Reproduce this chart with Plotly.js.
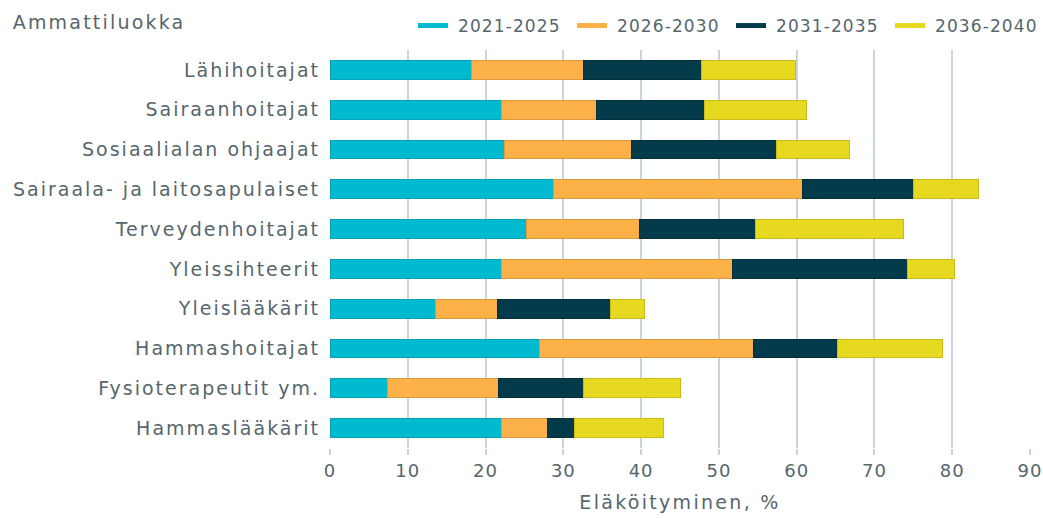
<!DOCTYPE html>
<html>
<head>
<meta charset="utf-8">
<script src="https://cdn.plot.ly/plotly-3.0.1.min.js"></script>
<style>
html,body{margin:0;padding:0;background:#fff;}
#chart{width:1043px;height:518px;}
#chart .ytick text{letter-spacing:2px;}
#chart .g-xtitle text{letter-spacing:2.3px;}
#chart .xtick text{letter-spacing:1px;}
#chart .legendtext{letter-spacing:1.1px; transform: translateX(5px);}
#chart .annotation-text{letter-spacing:2.2px;}
</style>
</head>
<body>
<div id="chart"></div>
<script>
const categories = ["Lähihoitajat","Sairaanhoitajat","Sosiaalialan ohjaajat","Sairaala- ja laitosapulaiset","Terveydenhoitajat","Yleissihteerit","Yleislääkärit","Hammashoitajat","Fysioterapeutit ym.","Hammaslääkärit"];
const seriesNames = ["2021-2025","2026-2030","2031-2035","2036-2040"];
const s2021 = [18.2, 22.0, 22.4, 28.7, 25.2, 22.0, 13.6, 26.9, 7.4, 22.0];
const s2026 = [14.4, 12.3, 16.4, 32.1, 14.6, 29.7, 7.9, 27.5, 14.3, 5.9];
const s2031 = [15.1, 13.9, 18.6, 14.2, 14.9, 22.5, 14.5, 10.9, 10.9, 3.5];
const s2036 = [12.1, 13.1, 9.4, 8.4, 19.0, 6.1, 4.4, 13.5, 12.5, 11.5];
const xTicks = [0,10,20,30,40,50,60,70,80,90];

const colors = ["#00bbd0","#fcb048","#033b4a","#e7d820"];
const outlines = ["#0aa0b3","#dd993f","#022f3b","#c9bb1c"];
const values = [s2021, s2026, s2031, s2036];
const font = "DejaVu Sans, Verdana, sans-serif";
const textColor = "#56666d";

const traces = [];
values.forEach((v, i) => {
  traces.push({
    type: "bar", orientation: "h",
    x: v, y: categories,
    name: seriesNames[i],
    showlegend: false,
    marker: {color: colors[i], line: {color: outlines[i], width: 1}},
    hoverinfo: "x+name"
  });
});
values.forEach((v, i) => {
  traces.push({
    type: "scatter", mode: "lines",
    x: [null], y: [null],
    name: seriesNames[i],
    line: {color: colors[i], width: 5},
    showlegend: true
  });
});

const layout = {
  width: 1043, height: 518,
  margin: {l: 330, r: 13, t: 50, b: 70, autoexpand: false},
  barmode: "stack",
  bargap: 0.53,
  paper_bgcolor: "#fff", plot_bgcolor: "#fff",
  font: {family: font, color: textColor, size: 17},
  xaxis: {
    range: [0, 90],
    tickvals: xTicks,
    ticktext: xTicks.map(String),
    showgrid: true, gridcolor: "#c8d6dc", gridwidth: 2,
    zeroline: false,
    ticks: "outside", ticklen: 6, tickcolor: "#c8d6dc", tickwidth: 2,
    tickfont: {size: 18, color: textColor},
    title: {text: "Eläköityminen, %", font: {size: 19, color: textColor}, standoff: 16},
    automargin: false,
    fixedrange: true
  },
  yaxis: {
    type: "category",
    autorange: "reversed",
    showgrid: false, zeroline: false,
    ticks: "", ticklabelstandoff: 9,
    tickfont: {size: 19, color: textColor},
    automargin: false,
    fixedrange: true
  },
  legend: {
    orientation: "h",
    x: (413 - 330) / 700, xanchor: "left",
    y: 1 + 6 / 398, yanchor: "bottom",
    font: {size: 17, color: textColor},
    traceorder: "normal",
    entrywidth: 114, entrywidthmode: "pixels",
    itemwidth: 30,
    bgcolor: "rgba(0,0,0,0)"
  },
  annotations: [{
    text: "Ammattiluokka",
    xref: "paper", yref: "paper",
    x: (25 - 330) / 700, xanchor: "left",
    y: 1, yanchor: "bottom", yshift: 15,
    showarrow: false,
    font: {size: 19, color: textColor}
  }],
  showlegend: true
};

Plotly.newPlot("chart", traces, layout, {displayModeBar: false, staticPlot: true});
</script>
</body>
</html>
